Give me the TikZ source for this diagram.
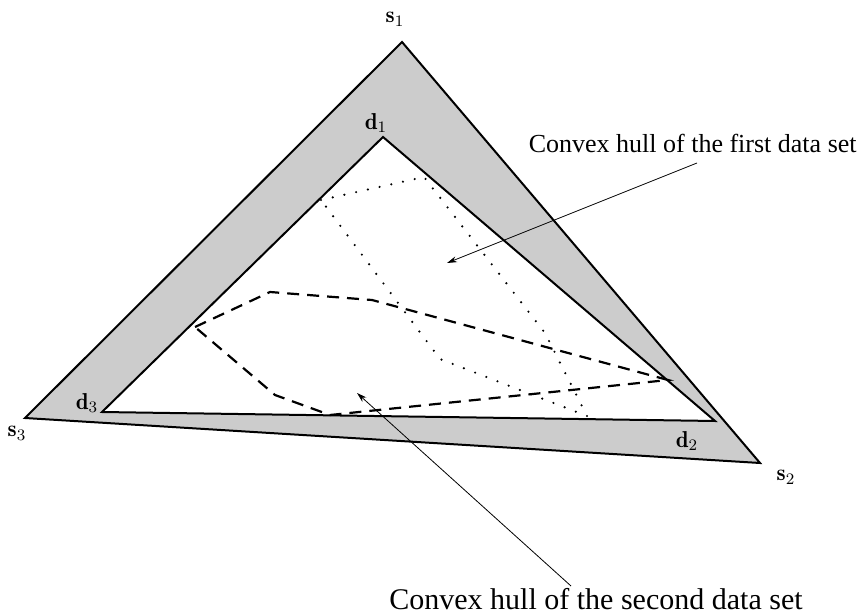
\documentclass[tikz,border=0pt]{standalone}
\usepackage{amsmath}
\usepackage{fontspec}
\newfontfamily\hullfont{Liberation Serif}
\usetikzlibrary{arrows.meta}

\begin{document}
\begin{tikzpicture}[
    x=0.5pt, y=-0.5pt,
    edge/.style={line width=1pt, line join=miter},
    band/.style={fill=black!20, even odd rule},
    firsthull/.style={dash pattern=on 0pt off 6pt, line width=1.2pt, line cap=round},
    secondhull/.style={dash pattern=on 6pt off 4pt, line width=1.1pt},
    vlabel/.style={inner sep=0pt, font=\fontsize{11.5}{14}\selectfont},
    note/.style={font=\hullfont\fontsize{13}{16}\selectfont, inner sep=0pt},
    arrow/.style={-{Stealth[length=5pt, width=3pt]}, line width=0.4pt}
]
\useasboundingbox (0,0) rectangle (860,614);

% vertices of the two simplices
\coordinate (s1) at (402,42);
\coordinate (s2) at (760,463);
\coordinate (s3) at (25,418);
\coordinate (d1) at (383,137);
\coordinate (d2) at (715,421);
\coordinate (d3) at (102,412);

\fill[band] (s1) -- (s2) -- (s3) -- cycle (d1) -- (d2) -- (d3) -- cycle;
\draw[edge] (s1) -- (s2) -- (s3) -- cycle;
\draw[edge] (d1) -- (d2) -- (d3) -- cycle;

% convex hulls
\draw[firsthull] (321,200) -- (424,177) -- (545,333) -- (587,416) -- (440,359) -- cycle;
\draw[secondhull] (195,327) -- (270,292) -- (372,300) -- (668,380) -- (330,415) -- (275,395) -- cycle;

% labels
\node[vlabel] (ls1) at (395,19) {$\mathbf{s}_1$};
\node[vlabel] (ls2) at (786,477) {$\mathbf{s}_2$};
\node[vlabel] (ls3) at (17,433) {$\mathbf{s}_3$};
\node[vlabel] (ld1) at (376,123) {$\mathbf{d}_1$};
\node[vlabel] (ld2) at (687,441) {$\mathbf{d}_2$};
\node[vlabel] (ld3) at (87,403) {$\mathbf{d}_3$};

\node[note, anchor=base east] (noteA) at (857,153) {Convex hull of the first data set};
\node[note, font=\hullfont\fontsize{15}{18}\selectfont, anchor=base] (noteB) at (596,609) {Convex hull of the second data set};

\coordinate (fromA) at (697,163);
\coordinate (toA) at (447,263);
\coordinate (fromB) at (571,586);
\coordinate (toB) at (357,393);
\draw[arrow] (fromA) -- (toA);
\draw[arrow] (fromB) -- (toB);
\end{tikzpicture}
\end{document}
